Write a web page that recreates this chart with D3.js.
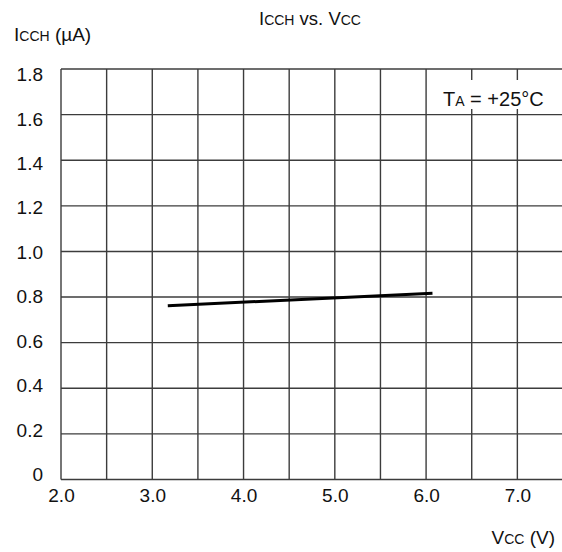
<!DOCTYPE html>
<html><head><meta charset="utf-8">
<script src="https://cdn.jsdelivr.net/npm/d3@7"></script>
<style>
html,body{margin:0;padding:0;background:#fff;}
svg{display:block;font-family:"Liberation Sans",Arial,sans-serif;}
</style></head>
<body>
<svg id="c" width="562" height="552"></svg>
<script>
const vcc = [3.17, 6.07];
const icch = [0.762, 0.817];
const xTicks = [2.0, 3.0, 4.0, 5.0, 6.0, 7.0];
const xGrid = [2.0, 2.5, 3.0, 3.5, 4.0, 4.5, 5.0, 5.5, 6.0, 6.5, 7.0, 7.5];
const yTicks = [0, 0.2, 0.4, 0.6, 0.8, 1.0, 1.2, 1.4, 1.6, 1.8];
const yTickLabels = ["0", "0.2", "0.4", "0.6", "0.8", "1.0", "1.2", "1.4", "1.6", "1.8"];

const svg = d3.select("#c");
const x = d3.scaleLinear().domain([2, 7.5]).range([61, 563]);
const y = d3.scaleLinear().domain([0, 1.8]).range([479.5, 69]);
// tick label placement scale (labels sit slightly offset from grid lines as in the original)
const yLab = d3.scaleLinear().domain([0, 1.8]).range([474, 74]);
const gridColor = "#3c3c3c";

// grid
svg.append("g").selectAll("line").data(xGrid).join("line")
  .attr("x1", d => x(d)).attr("x2", d => x(d))
  .attr("y1", y(0)).attr("y2", y(1.8))
  .attr("stroke", gridColor).attr("stroke-width", 1.4);
svg.append("g").selectAll("line").data(yTicks).join("line")
  .attr("x1", x(2)).attr("x2", x(7.5))
  .attr("y1", d => y(d)).attr("y2", d => y(d))
  .attr("stroke", gridColor).attr("stroke-width", 1.4);

// x tick labels
const xAxis = d3.axisBottom(x).tickValues(xTicks).tickFormat(d3.format(".1f")).tickSize(0).tickPadding(0);
const gx = svg.append("g").attr("transform", `translate(0,${y(0)})`).call(xAxis);
gx.select(".domain").remove();
gx.selectAll("text").attr("font-size", 19).attr("fill", "#111")
  .attr("dy", null).attr("y", 22.5).attr("font-family", "Liberation Sans, Arial, sans-serif");

// y tick labels
const yAxis = d3.axisLeft(yLab).tickValues(yTicks).tickFormat((d, i) => yTickLabels[i]).tickSize(0).tickPadding(0);
const gy = svg.append("g").attr("transform", `translate(43,0)`).call(yAxis);
gy.select(".domain").remove();
gy.selectAll("text").attr("font-size", 19).attr("fill", "#111")
  .attr("dy", "0.35em").attr("x", 0).attr("font-family", "Liberation Sans, Arial, sans-serif");

// line
const line = d3.line().x((d, i) => x(vcc[i])).y(d => y(d));
svg.append("path").datum(icch).attr("d", line)
  .attr("fill", "none").attr("stroke", "#000").attr("stroke-width", 3);

// legend box TA
svg.append("rect").attr("x", 438).attr("y", 80).attr("width", 114).attr("height", 29).attr("fill", "#fff");
const ta = svg.append("text").attr("x", 443).attr("y", 105.5).attr("font-size", 20).attr("fill", "#111");
ta.append("tspan").text("T");
ta.append("tspan").attr("font-size", 14).text("A");
ta.append("tspan").text(" = +25°C");

// title
const t = svg.append("text").attr("x", 310).attr("y", 25).attr("text-anchor", "middle").attr("font-size", 18.5).attr("fill", "#111");
t.append("tspan").text("I");
t.append("tspan").attr("font-size", 14).text("CCH");
t.append("tspan").text(" vs. V");
t.append("tspan").attr("font-size", 14).text("CC");

// y label
const yl = svg.append("text").attr("x", 14).attr("y", 40.5).attr("font-size", 19).attr("fill", "#111");
yl.append("tspan").text("I");
yl.append("tspan").attr("font-size", 14).text("CCH");
yl.append("tspan").text(" (µA)");

// x label
const xl = svg.append("text").attr("x", 555).attr("y", 544).attr("text-anchor", "end").attr("font-size", 19).attr("fill", "#111");
xl.append("tspan").text("V");
xl.append("tspan").attr("font-size", 14).text("CC");
xl.append("tspan").text(" (V)");
</script>
</body></html>
